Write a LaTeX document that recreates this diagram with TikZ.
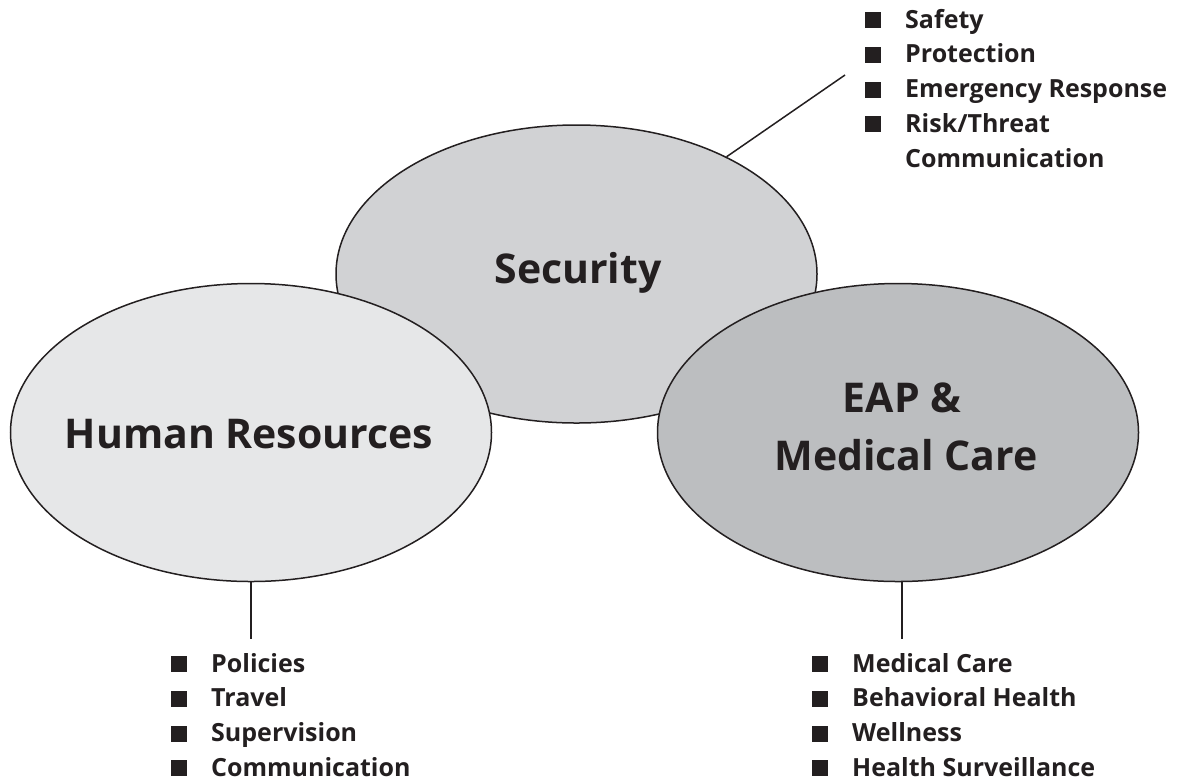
\documentclass[tikz,border=0pt]{standalone}
\usepackage{fontspec}
\setmainfont{Open Sans}
\usetikzlibrary{shapes.geometric}
\definecolor{ink}{HTML}{231F20}
\definecolor{secfill}{HTML}{D1D2D4}
\definecolor{hrfill}{HTML}{E6E7E8}
\definecolor{eapfill}{HTML}{BCBEC0}
\newcommand{\bul}{\rule{16pt}{16pt}}
\tikzset{
  blob/.style={ellipse, draw=ink, line width=1.5pt, minimum width=481pt, minimum height=298pt, inner sep=0pt},
  bigtext/.style={font=\fontsize{41}{58}\selectfont\bfseries, text=ink, inner sep=0pt, align=center},
  listtext/.style={font=\fontsize{25}{34.8}\selectfont\bfseries, text=ink, inner sep=0pt, anchor=base west},
  leader/.style={draw=ink, line width=1.5pt}
}
\begin{document}
\begin{tikzpicture}[x=1pt,y=-1pt]
\useasboundingbox (0,0) rectangle (1182,780);
% ellipses
\node[blob, fill=secfill] (sec) at (576.5,274) {};
\node[blob, fill=hrfill] (hr) at (251,432.5) {};
\node[blob, fill=eapfill] (eap) at (898,432.5) {};
% titles
\node[bigtext, anchor=base] (sect) at (578,283) {Security};
\node[bigtext, anchor=base] (hrt) at (249,448) {Human Resources};
\node[bigtext, anchor=base] (eapt1) at (902,412) {EAP \&};
\node[bigtext, anchor=base] (eapt2) at (906,470) {Medical Care};
% leader lines
\coordinate (secEnd) at (845,75);
\coordinate (hrEnd) at (251,639);
\coordinate (eapEnd) at (902,639);
\draw[leader] (sec.38.3) -- (secEnd);
\draw[leader] (hr.south) -- (hrEnd);
\draw[leader] (eap.south -| eapEnd) -- (eapEnd);
% lists
\node[listtext] (seclist) at (865,28) {\begin{tabular}[t]{@{}l@{\hspace{24pt}}l@{}}
\bul & Safety\\
\bul & Protection\\
\bul & Emergency Response\\
\bul & Risk/Threat\\
 & Communication
\end{tabular}};
\node[listtext] (hrlist) at (171,672) {\begin{tabular}[t]{@{}l@{\hspace{24pt}}l@{}}
\bul & Policies\\
\bul & Travel\\
\bul & Supervision\\
\bul & Communication
\end{tabular}};
\node[listtext] (eaplist) at (812,672) {\begin{tabular}[t]{@{}l@{\hspace{24pt}}l@{}}
\bul & Medical Care\\
\bul & Behavioral Health\\
\bul & Wellness\\
\bul & Health Surveillance
\end{tabular}};
\end{tikzpicture}
\end{document}
